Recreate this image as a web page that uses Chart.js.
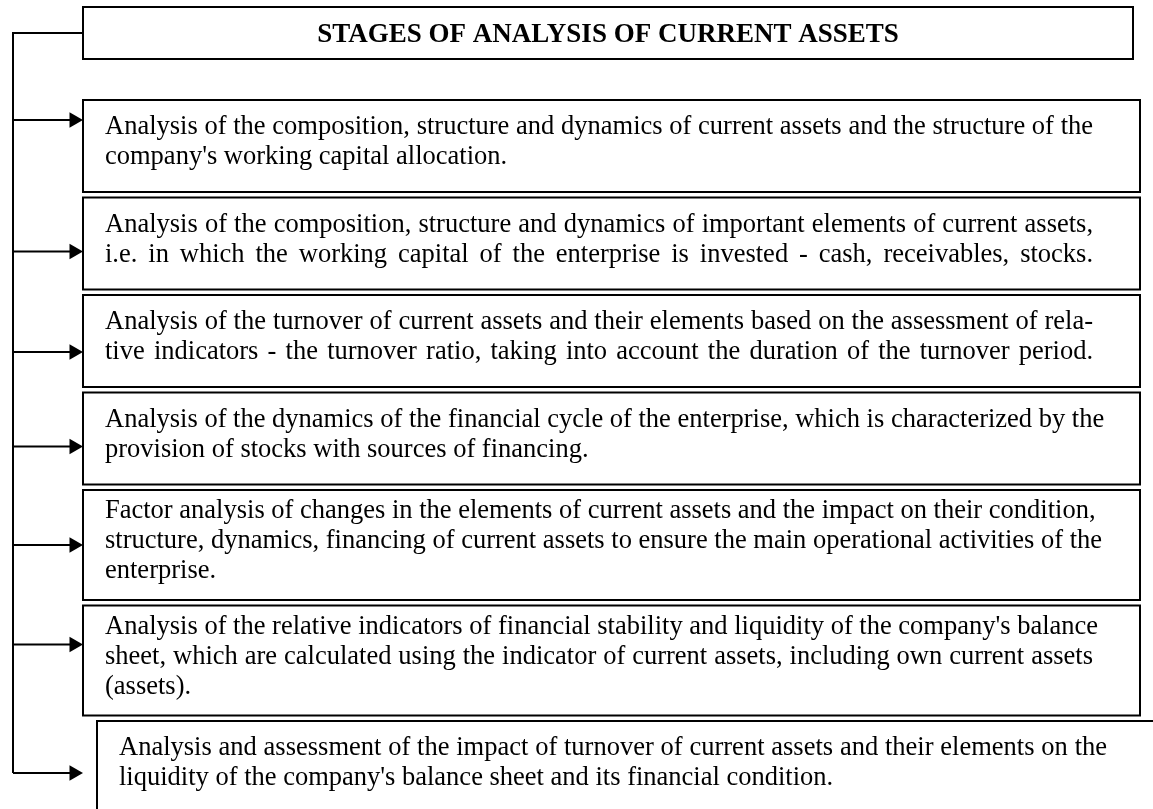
<!DOCTYPE html>
<html>
<head>
<meta charset="utf-8">
<script src="https://cdn.jsdelivr.net/npm/chart.js@4.4.0/dist/chart.umd.min.js"></script>
<style>
  html, body { margin: 0; padding: 0; background: #fff; }
  canvas { display: block; }
</style>
</head>
<body>
<canvas id="stagesChart" width="1153" height="809"></canvas>
<script>
// diagram content
const title = 'STAGES OF ANALYSIS OF CURRENT ASSETS';
const stageLines = [
  ["Analysis of the composition, structure and dynamics of current assets and the structure of the",
   "company's working capital allocation."],
  ["Analysis of the composition, structure and dynamics of important elements of current assets,",
   "i.e. in which the working capital of the enterprise is invested - cash, receivables, stocks."],
  ["Analysis of the turnover of current assets and their elements based on the assessment of rela-",
   "tive indicators - the turnover ratio, taking into account the duration of the turnover period."],
  ["Analysis of the dynamics of the financial cycle of the enterprise, which is characterized by the",
   "provision of stocks with sources of financing."],
  ["Factor analysis of changes in the elements of current assets and the impact on their condition,",
   "structure, dynamics, financing of current assets to ensure the main operational activities of the",
   "enterprise."],
  ["Analysis of the relative indicators of financial stability and liquidity of the company's balance",
   "sheet, which are calculated using the indicator of current assets, including own current assets",
   "(assets)."],
  ["Analysis and assessment of the impact of turnover of current assets and their elements on the",
   "liquidity of the company's balance sheet and its financial condition."]
];

// layout in scale units (1 unit = 1 px on this canvas)
const L = {
  width: 1153, height: 809,
  titleTop: 7, titleBottom: 59, titleLeft: 83, titleRight: 1133,
  left: 83, right: 1140, firstTop: 100, gap: 5.5,
  pad: 56, perLine: 18, lastIndent: 14,
  trunkX: 13, connectY: 33,
  lineH: 30, textPad: 22, textWidth: 988, font: 26.5, titleFont: 27,
  arrowNudge: [-26, 8, 11, 8, 0, -16, 6]
};

// box positions follow from the number of text lines
const boxes = [];
let cursorY = L.firstTop;
stageLines.forEach((lines, i) => {
  const h = L.pad + L.perLine * lines.length;
  const last = i === stageLines.length - 1;
  boxes.push({
    top: cursorY, bottom: cursorY + h,
    drawBottom: last ? L.height + 20 : cursorY + h,
    left: last ? L.left + L.lastIndent : L.left,
    right: last ? L.width + 10 : L.right,
    arrowY: cursorY + h / 2 + L.arrowNudge[i],
    lines: lines
  });
  cursorY += h + L.gap;
});

// justified line, like the source document
function drawLine(ctx, text, x0, y0, width, lastLine) {
  const natural = ctx.measureText(text).width;
  const words = text.split(' ');
  if ((lastLine && natural < width * 0.9) || natural >= width || words.length < 2) {
    ctx.fillText(text, x0, y0);
    return;
  }
  const wordsW = words.reduce((s, w) => s + ctx.measureText(w).width, 0);
  const space = (width - wordsW) / (words.length - 1);
  let cx = x0;
  words.forEach(w => {
    ctx.fillText(w, cx, y0);
    cx += ctx.measureText(w).width + space;
  });
}

const diagram = {
  id: 'diagram',
  beforeDatasetsDraw(chart) {
    const {ctx, scales: {x, y}} = chart;
    ctx.save();
    ctx.strokeStyle = '#000';
    ctx.fillStyle = '#000';
    ctx.lineWidth = 2;

    // title box
    ctx.strokeRect(x.getPixelForValue(L.titleLeft), y.getPixelForValue(L.titleTop),
      x.getPixelForValue(L.titleRight) - x.getPixelForValue(L.titleLeft),
      y.getPixelForValue(L.titleBottom) - y.getPixelForValue(L.titleTop));
    ctx.font = 'bold ' + L.titleFont + 'px "Liberation Serif", "Times New Roman", serif';
    ctx.textAlign = 'center';
    ctx.textBaseline = 'alphabetic';
    ctx.fillText(title, x.getPixelForValue((L.titleLeft + L.titleRight) / 2),
      y.getPixelForValue(L.titleBottom - 17));

    // trunk line
    const lastArrow = boxes[boxes.length - 1].arrowY;
    ctx.beginPath();
    ctx.moveTo(x.getPixelForValue(L.titleLeft), y.getPixelForValue(L.connectY));
    ctx.lineTo(x.getPixelForValue(L.trunkX), y.getPixelForValue(L.connectY));
    ctx.lineTo(x.getPixelForValue(L.trunkX), y.getPixelForValue(lastArrow));
    ctx.stroke();

    // stage boxes
    ctx.font = L.font + 'px "Liberation Serif", "Times New Roman", serif';
    ctx.textAlign = 'left';
    boxes.forEach(b => {
      const px = x.getPixelForValue(b.left);
      const py = y.getPixelForValue(b.top);
      ctx.strokeRect(px, py, x.getPixelForValue(b.right) - px, y.getPixelForValue(b.drawBottom) - py);
      const mid = (b.top + b.bottom) / 2 + 3;
      const first = mid - (b.lines.length - 1) * L.lineH / 2;
      b.lines.forEach((t, k) => {
        drawLine(ctx, t, x.getPixelForValue(b.left + L.textPad),
          y.getPixelForValue(first + k * L.lineH),
          x.getPixelForValue(L.textWidth) - x.getPixelForValue(0),
          k === b.lines.length - 1);
      });
      // arrow shaft
      ctx.beginPath();
      ctx.moveTo(x.getPixelForValue(L.trunkX), y.getPixelForValue(b.arrowY));
      ctx.lineTo(x.getPixelForValue(L.left - 12), y.getPixelForValue(b.arrowY));
      ctx.stroke();
    });
    ctx.restore();
  }
};

new Chart(document.getElementById('stagesChart'), {
  type: 'scatter',
  data: {
    datasets: [{
      label: 'arrows',
      data: boxes.map(b => ({x: L.left - 9, y: b.arrowY})),
      pointStyle: 'triangle',
      rotation: 90,
      radius: 9,
      backgroundColor: '#000',
      borderColor: '#000',
      borderWidth: 0
    }]
  },
  options: {
    responsive: false,
    animation: false,
    devicePixelRatio: 1,
    layout: { padding: 0, autoPadding: false },
    scales: {
      x: { type: 'linear', min: 0, max: L.width, display: false },
      y: { type: 'linear', min: 0, max: L.height, reverse: true, display: false }
    },
    plugins: {
      legend: { display: false },
      tooltip: { enabled: false }
    },
    events: []
  },
  plugins: [diagram]
});
</script>
</body>
</html>
